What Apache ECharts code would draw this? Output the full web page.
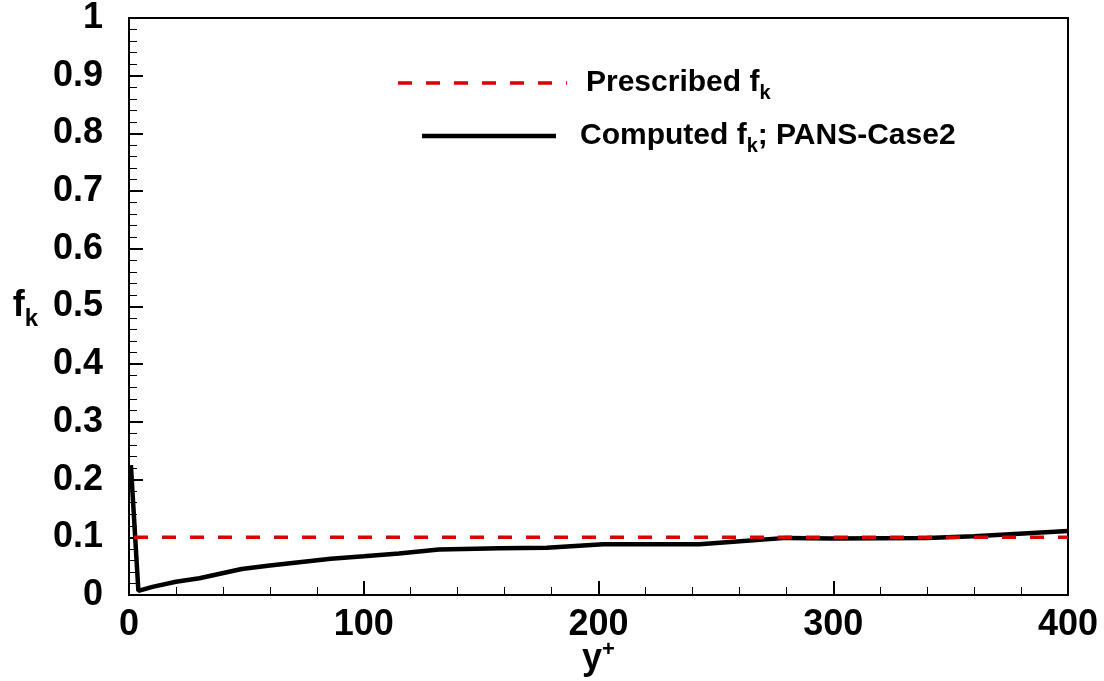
<!DOCTYPE html>
<html>
<head>
<meta charset="utf-8">
<script src="https://cdn.jsdelivr.net/npm/echarts@6/dist/echarts.min.js"></script>
<style>
  html, body { margin: 0; padding: 0; background: #fff; }
  #chart { width: 1104px; height: 681px; }
</style>
</head>
<body>
<div id="chart"></div>
<script>
// Wall-normal distance y+ and the computed ratio f_k (PANS, case 2)
const yPlus = [0.8, 4, 10, 20, 30, 48, 60, 86, 100, 115, 132, 158, 178, 202, 220, 243, 256, 280, 300, 340, 360, 400];
const fkComputed = [0.225, 0.007, 0.014, 0.023, 0.029, 0.045, 0.051, 0.063, 0.067, 0.072, 0.079, 0.081, 0.082, 0.088, 0.088, 0.088, 0.092, 0.099, 0.098, 0.099, 0.102, 0.111];
// Prescribed constant f_k over the whole range
const prescribedX = [0, 400];
const prescribedFk = [0.1, 0.1];

const FONT = "'Liberation Sans', Arial, sans-serif";
const RED = '#d80000';
const DASH = [14, 14];

const chart = echarts.init(document.getElementById('chart'), null, { renderer: 'canvas' });

const richLegend = {
  m: { fontFamily: FONT, fontWeight: 'bold', fontSize: 30, color: '#000' },
  s: { fontFamily: FONT, fontWeight: 'bold', fontSize: 20, color: '#000', padding: [20, 0, 0, 0] }
};

chart.setOption({
  animation: false,
  backgroundColor: '#fff',
  grid: {
    left: 129, right: 36, top: 18, bottom: 86,
    outerBoundsMode: 'none', containLabel: false,
    show: true, borderColor: '#000', borderWidth: 2, backgroundColor: 'transparent'
  },
  // Legend keys drawn as plain shapes beside rich-text labels
  graphic: [
    { type: 'line', shape: { x1: 398, y1: 83, x2: 567, y2: 83 },
      style: { stroke: RED, lineWidth: 3.5, lineDash: DASH } },
    { type: 'text', left: 586, top: 68,
      style: { rich: richLegend, text: '{m|Prescribed f}{s|k}' } },
    { type: 'line', shape: { x1: 422, y1: 136, x2: 556, y2: 136 },
      style: { stroke: '#000', lineWidth: 4.5 } },
    { type: 'text', left: 580, top: 121,
      style: { rich: richLegend, text: '{m|Computed f}{s|k}{m|; PANS-Case2}' } }
  ],
  xAxis: {
    type: 'value', min: 0, max: 400, interval: 100,
    name: '{y|y}{p|+}',
    nameLocation: 'middle', nameGap: 44, nameMoveOverlap: false,
    nameTextStyle: {
      rich: {
        y: { fontFamily: FONT, fontWeight: 'bold', fontSize: 36, color: '#000' },
        p: { fontFamily: FONT, fontWeight: 'bold', fontSize: 22, color: '#000', padding: [0, 0, 18, 0] }
      }
    },
    axisLine: { show: true, lineStyle: { color: '#000', width: 2 } },
    axisTick: { inside: true, length: 14, lineStyle: { color: '#000', width: 2 } },
    minorTick: { show: true, splitNumber: 5, length: 8, lineStyle: { color: '#000', width: 1 } },
    splitLine: { show: false },
    axisLabel: { margin: 12, color: '#000', fontFamily: FONT, fontWeight: 'bold', fontSize: 36 }
  },
  yAxis: {
    type: 'value', min: 0, max: 1, interval: 0.1,
    name: '{f|f}{k|k}',
    nameLocation: 'middle', nameRotate: 0, nameGap: 91, nameMoveOverlap: false,
    nameTextStyle: {
      align: 'right',
      rich: {
        f: { fontFamily: FONT, fontWeight: 'bold', fontSize: 36, color: '#000' },
        k: { fontFamily: FONT, fontWeight: 'bold', fontSize: 24, color: '#000', padding: [26, 0, 0, 0] }
      }
    },
    axisLine: { show: true, lineStyle: { color: '#000', width: 2 } },
    axisTick: { inside: true, length: 14, lineStyle: { color: '#000', width: 2 } },
    minorTick: { show: true, splitNumber: 5, length: 8, lineStyle: { color: '#000', width: 1 } },
    splitLine: { show: false },
    axisLabel: { margin: 26, color: '#000', fontFamily: FONT, fontWeight: 'bold', fontSize: 36 }
  },
  series: [
    {
      name: 'Prescribed',
      type: 'line',
      data: prescribedX.map((x, i) => [x, prescribedFk[i]]),
      symbol: 'none',
      color: RED,
      lineStyle: { color: RED, width: 3.5, type: DASH, dashOffset: -5 },
      z: 3
    },
    {
      name: 'Computed',
      type: 'line',
      data: yPlus.map((x, i) => [x, fkComputed[i]]),
      symbol: 'none',
      color: '#000',
      lineStyle: { color: '#000', width: 4.5 },
      z: 2
    }
  ]
});
</script>
</body>
</html>
